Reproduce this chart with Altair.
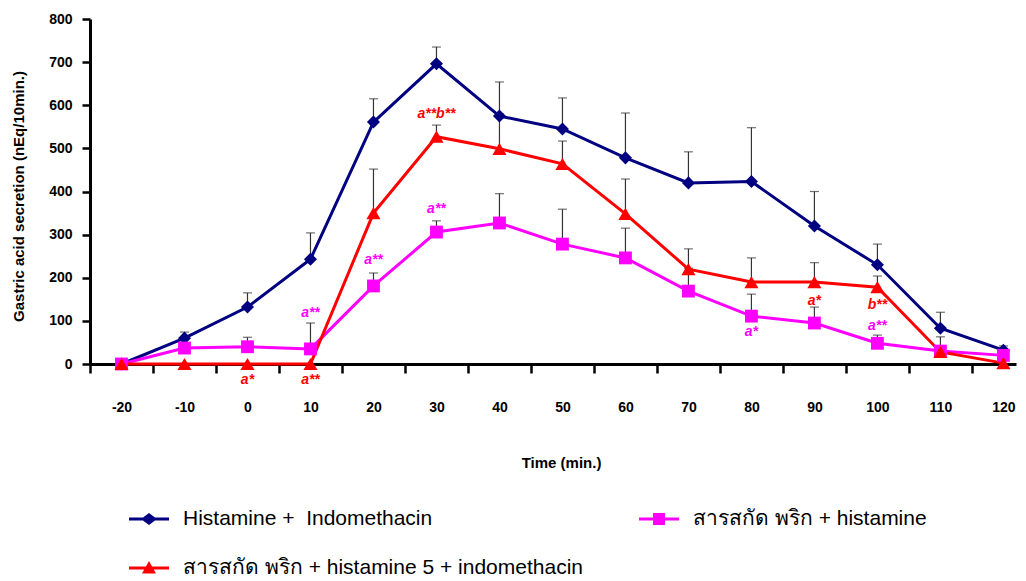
import altair as alt
import pandas as pd

# ---------------- data ----------------
times = [-20, -10, 0, 10, 20, 30, 40, 50, 60, 70, 80, 90, 100, 110, 120]

# legend order (column-major fill): navy, red | magenta
series_names = [
    "Histamine +\u00a0 Indomethacin",
    "สารสกัด พริก + histamine 5 + indomethacin",
    "สารสกัด พริก + histamine",
]
series_colors = ["#000080", "#FF0000", "#FF00FF"]

navy_mean = [0, 60, 132, 243, 561, 696, 575, 545, 478, 420, 423, 320, 230, 83, 32]
navy_upper = [None, 74, 165, 304, 615, 735, 654, 617, 582, 492, 548, 400, 278, 120, 42]

mag_mean = [0, 37, 40, 35, 181, 306, 327, 278, 246, 169, 111, 95, 48, 30, 20]
mag_upper = [None, None, 62, 95, 211, 332, 395, 359, 315, 222, 162, 132, 67, None, None]

red_mean = [0, 0, 0, 0, 350, 527, 499, 464, 348, 220, 190, 190, 178, 28, 2]
red_upper = [None, None, None, None, 452, 554, 580, 517, 429, 267, 246, 235, 204, 63, None]

# significance annotations (series index into series_names)
ann_time = [0, 10, 10, 20, 30, 30, 80, 90, 100, 100]
ann_value = [-37, -37, 118, 241, 360, 580, 74, 146, 137, 88]
ann_label = ["a*", "a**", "a**", "a**", "a**", "a**b**", "a*", "a*", "b**", "a**"]
ann_series = [1, 1, 2, 2, 2, 1, 2, 1, 1, 2]

# ---------------- tables ----------------
rows = []
for name, means, ups in [
    (series_names[0], navy_mean, navy_upper),
    (series_names[2], mag_mean, mag_upper),
    (series_names[1], red_mean, red_upper),
]:
    for t, m, u in zip(times, means, ups):
        rows.append({"series": name, "time": t, "mean": m, "upper": u})
df = pd.DataFrame(rows)

ann_df = pd.DataFrame({
    "time": ann_time,
    "value": ann_value,
    "label": ann_label,
    "series": [series_names[i] for i in ann_series],
})

FONT = "Liberation Sans"

cscale = alt.Scale(domain=series_names, range=series_colors)

# legend symbols: line + marker
legend_paths = [
    "M-1,-0.075H-0.3L0,-0.3L0.3,-0.075H1V0.075H0.3L0,0.3L-0.3,0.075H-1Z",
    "M-1,-0.075H-0.153L0,-0.35L0.153,-0.075H1V0.075H0.236L0.35,0.28H-0.35L-0.236,0.075H-1Z",
    "M-1,-0.075H-0.3V-0.3H0.3V-0.075H1V0.075H0.3V0.3H-0.3V0.075H-1Z",
]

xaxis = alt.Axis(
    values=times, format="d", labelExpr="toString(datum.value)",
    title="Time (min.)", titleFont=FONT, titleFontSize=15, titleFontWeight="bold",
    titleX=471, titleY=98, titleBaseline="middle", titleColor="black",
    labelFont=FONT, labelFontSize=14, labelFontWeight="bold", labelColor="black",
    labelPadding=27, labelFlush=False, labelOverlap=False, labelBound=False,
    tickSize=9, tickWidth=2.5, tickColor="black",
    tickOffset=-31.5, labelOffset=31.5,
    domainColor="black", domainWidth=3, grid=False,
)
yaxis = alt.Axis(
    values=[0, 100, 200, 300, 400, 500, 600, 700, 800], format="d",
    title="Gastric acid secretion (nEq/10min.)", titleFont=FONT, titleFontSize=15,
    titleFontWeight="bold", titleX=-72, titleY=177, titleBaseline="middle",
    titleAngle=270, titleColor="black",
    labelFont=FONT, labelFontSize=14, labelFontWeight="bold", labelColor="black",
    labelPadding=10, tickSize=8, tickWidth=2.5, tickColor="black",
    domainColor="black", domainWidth=3, grid=False,
)

leg = alt.Legend(
    title=None, orient="none", legendX=39, legendY=480, columns=2,
    symbolSize=1600, symbolStrokeWidth=0, labelFont=FONT, labelFontSize=21,
    labelColor="black", labelOffset=14, labelLimit=700, rowPadding=19,
    columnPadding=55, padding=0,
)

xs = alt.Scale(domain=[-25, 122], nice=False, zero=False)
ys = alt.Scale(domain=[0, 800], nice=False)

X = alt.X("time:Q", scale=xs, axis=xaxis)
Y = alt.Y("mean:Q", scale=ys, axis=yaxis)
C = alt.Color("series:N", scale=cscale, legend=leg)

base = alt.Chart(df)

err_rule = base.transform_filter("isValid(datum.upper)").mark_rule(
    color="#333333", strokeWidth=1.2
).encode(x=X, y=Y, y2="upper:Q")

err_cap = base.transform_filter("isValid(datum.upper)").mark_tick(
    color="#333333", thickness=1.2, size=9, orient="horizontal"
).encode(x=X, y=alt.Y("upper:Q", scale=ys, axis=yaxis))

lines = base.mark_line(strokeWidth=3).encode(x=X, y=Y, color=C)

point_specs = [
    (series_names[0], "diamond", 170),
    (series_names[2], "square", 165),
    (series_names[1], "triangle-up", 200),
]
point_layers = []
for name, shp, sz in point_specs:
    point_layers.append(
        base.transform_filter(alt.datum.series == name).mark_point(
            shape=shp, size=sz, filled=True, opacity=1
        ).encode(x=X, y=Y, color=C)
    )

ann = alt.Chart(ann_df).mark_text(
    font=FONT, fontSize=14, fontStyle="italic", fontWeight="bold"
).encode(
    x=alt.X("time:Q", scale=xs, axis=xaxis),
    y=alt.Y("value:Q", scale=ys, axis=yaxis),
    text="label:N",
    color=C,
)

legend_layer = base.transform_filter("false").mark_point(filled=True).encode(
    x=X, y=Y,
    color=C,
    shape=alt.Shape("series:N", scale=alt.Scale(domain=series_names, range=legend_paths), legend=leg),
)

chart = alt.layer(err_rule, err_cap, lines, *point_layers, ann, legend_layer).properties(
    width=926, height=345,
    autosize=alt.AutoSizeParams(type="none"),
    padding={"left": 82, "top": 11, "right": 2, "bottom": 217},
    background="white",
).configure_view(strokeWidth=0)

chart.save("out.html", embed_options={"renderer": "svg", "actions": False})
